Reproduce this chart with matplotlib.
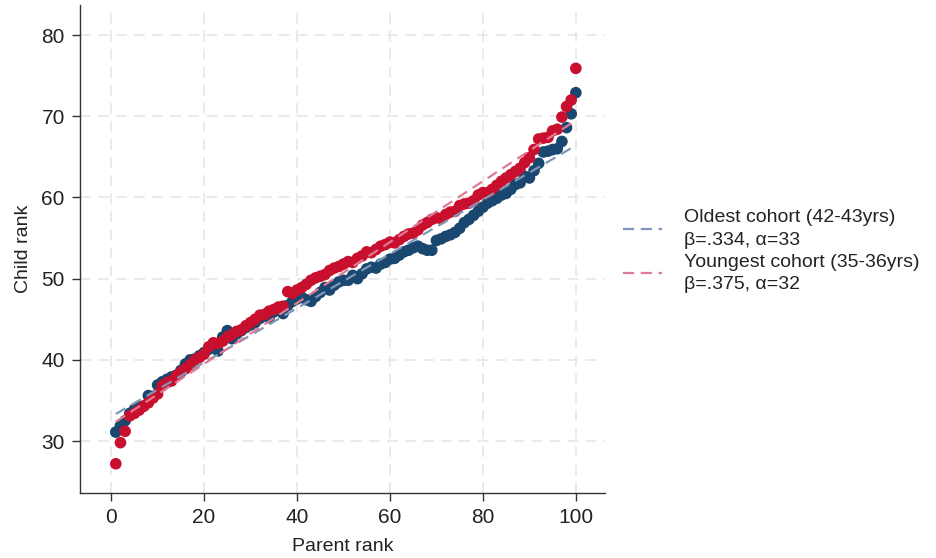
import matplotlib.pyplot as plt
import numpy as np

plt.rcParams["font.family"] = ["Liberation Sans", "DejaVu Sans"]

# parent percentile rank
parent_rank = np.arange(1, 101)

# mean child rank by parent rank, oldest cohort (42-43yrs)
oldest = [
    31.1, 31.9, 32.5, 33.4, 33.9, 34.2, 34.3, 35.6, 35.5, 36.9,
    37.3, 37.6, 37.9, 38.1, 38.7, 39.5, 40.0, 40.1, 40.5, 40.9,
    41.3, 42.0, 41.1, 42.8, 43.6, 42.6, 43.2, 43.6, 44.0, 44.3,
    44.6, 45.1, 45.5, 45.2, 45.9, 46.1, 45.7, 46.7, 47.2, 47.5,
    47.7, 47.4, 47.2, 47.8, 48.3, 48.9, 48.6, 49.2, 49.6, 49.8,
    49.8, 50.4, 50.0, 50.6, 51.2, 51.4, 51.3, 51.8, 52.0, 52.4,
    52.5, 52.9, 53.3, 53.5, 53.8, 54.0, 53.7, 53.5, 53.5, 54.7,
    54.9, 55.2, 55.4, 55.7, 56.2, 56.9, 57.3, 57.8, 58.3, 58.8,
    59.3, 59.6, 59.9, 60.3, 60.5, 61.0, 61.6, 61.8, 62.6, 62.4,
    63.3, 64.2, 65.6, 65.7, 65.9, 66.0, 66.9, 68.6, 70.3, 72.9,
]

# mean child rank by parent rank, youngest cohort (35-36yrs)
youngest = [
    27.2, 29.8, 31.2, 33.1, 33.4, 33.8, 34.3, 34.7, 35.3, 35.8,
    36.8, 37.2, 37.4, 38.0, 38.5, 38.9, 39.4, 40.0, 40.3, 40.7,
    41.6, 42.1, 42.0, 42.3, 42.8, 43.1, 43.5, 43.7, 44.2, 44.6,
    45.0, 45.5, 45.6, 46.0, 46.2, 46.5, 46.6, 48.4, 48.2, 48.6,
    48.9, 49.3, 49.8, 50.1, 50.3, 50.5, 51.0, 51.3, 51.5, 51.8,
    52.1, 52.0, 52.5, 52.8, 53.3, 53.2, 53.6, 54.0, 54.2, 54.5,
    54.4, 54.8, 55.2, 55.5, 55.6, 56.0, 56.6, 56.9, 57.3, 57.5,
    57.4, 57.9, 58.2, 58.3, 59.0, 59.2, 59.3, 59.6, 60.3, 60.6,
    60.6, 61.0, 61.5, 62.0, 62.4, 62.8, 63.2, 63.6, 64.3, 64.9,
    65.9, 67.2, 67.3, 67.4, 68.2, 68.4, 69.9, 71.2, 72.0, 75.9,
]

# rank-rank slope and intercept per cohort
betas = [0.334, 0.375]
alphas = [33, 32]
labels = [
    "Oldest cohort (42-43yrs)\n\u03b2=.334, \u03b1=33",
    "Youngest cohort (35-36yrs)\n\u03b2=.375, \u03b1=32",
]

dot_colors = ["#1a476f", "#c8102e"]
line_colors = ["#7f98b8", "#e07a92"]

fig = plt.figure(figsize=(9.36, 5.58), dpi=100)
ax = fig.add_axes([0.0855, 0.1165, 0.5605, 0.8745])

for y, c in zip([oldest, youngest], dot_colors):
    ax.scatter(parent_rank, y, s=70, color=c, edgecolors="none", zorder=3)

handles = []
for b, a, c, lab in zip(betas, alphas, line_colors, labels):
    fit = a + b * parent_rank
    (ln,) = ax.plot(parent_rank, fit, linestyle=(0, (5, 3)), color=c,
                    linewidth=1.6, zorder=4, label=lab)
    handles.append(ln)

ax.set_xlim(-6.7, 106.2)
ax.set_ylim(23.6, 83.7)
ax.set_xticks([0, 20, 40, 60, 80, 100])
ax.set_yticks([30, 40, 50, 60, 70, 80])
ax.grid(True, color="#e8e8e8", linestyle=(0, (6, 4)), linewidth=1.3, zorder=0)
ax.set_axisbelow(True)

for side in ["top", "right"]:
    ax.spines[side].set_visible(False)
for side in ["left", "bottom"]:
    ax.spines[side].set_color("#333333")
    ax.spines[side].set_linewidth(1.0)

ax.tick_params(axis="both", length=6, width=1.0, color="#333333",
               labelsize=15, labelcolor="#222222", pad=5)
ax.set_xlabel("Parent rank", fontsize=14, color="#222222", labelpad=8)
ax.set_ylabel("Child rank", fontsize=14, color="#222222", labelpad=7)

leg = fig.legend(handles=handles, loc="center left", bbox_to_anchor=(0.666, 0.55),
                 frameon=False, fontsize=14, handlelength=2.0, handletextpad=1.1,
                 labelspacing=0.25, labelcolor="#222222", borderaxespad=0,
                 borderpad=0)
for t in leg.get_texts():
    t.set_linespacing(1.4)

fig.savefig("out.png", dpi=100)
